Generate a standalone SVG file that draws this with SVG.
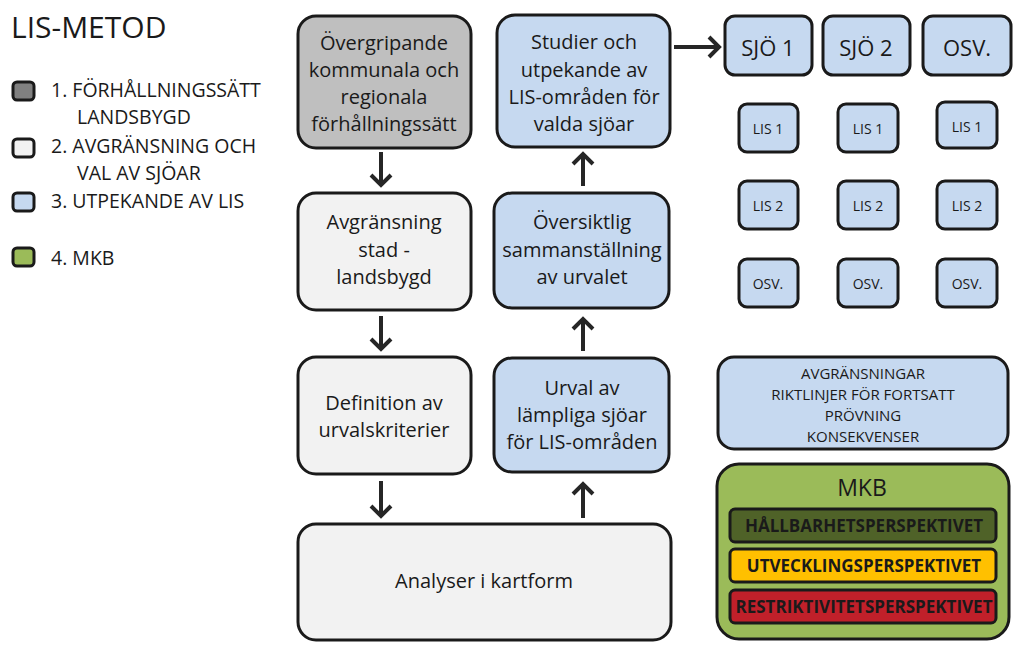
<svg xmlns="http://www.w3.org/2000/svg" width="1024" height="650" viewBox="0 0 1024 650">
<defs>
<style>
text{font-family:"Open Sans","Liberation Sans",sans-serif;fill:#1a1a1a;text-anchor:middle}
.b{stroke:#1a1a1a;stroke-width:3}
.gray{fill:#bfbfbf}
.lg{fill:#f2f2f2}
.bl{fill:#c6d9f0}
.t{font-size:20px}
.lt{font-size:19.5px;text-anchor:start}
.s{font-size:14px}
.m{font-size:15px}
.bar{font-size:17px;font-weight:bold}
.ar{fill:none;stroke:#262626;stroke-width:4}
</style>
</defs>
<rect width="1024" height="650" fill="#ffffff"/>
<text x="11" y="38" style="font-size:30px;text-anchor:start">LIS-METOD</text>
<g id="legend">
<rect x="13" y="82" width="21" height="18" rx="4" class="b" fill="#808080"/>
<rect x="13" y="139" width="21" height="18" rx="4" class="b" fill="#f2f2f2"/>
<rect x="13" y="193" width="21" height="18" rx="4" class="b" fill="#c6d9f0"/>
<rect x="13" y="248" width="21" height="18" rx="4" class="b" fill="#9bbb59"/>
<text x="51" y="97" class="lt">1. FÖRHÅLLNINGSSÄTT</text>
<text x="77" y="124" class="lt">LANDSBYGD</text>
<text x="51" y="153" class="lt">2. AVGRÄNSNING OCH</text>
<text x="77" y="180" class="lt">VAL AV SJÖAR</text>
<text x="51" y="208" class="lt">3. UTPEKANDE AV LIS</text>
<text x="51" y="265" class="lt">4. MKB</text>
</g>
<g id="n1"><rect x="298" y="16" width="173" height="132" rx="18" class="b gray"/>
<text class="t"><tspan x="384" y="50">Övergripande</tspan><tspan x="384" y="77">kommunala och</tspan><tspan x="384" y="104">regionala</tspan><tspan x="384" y="131">förhållningssätt</tspan></text></g>
<g id="n2"><rect x="298" y="193" width="173" height="117" rx="18" class="b lg"/>
<text class="t"><tspan x="384" y="229">Avgränsning</tspan><tspan x="384" y="257">stad -</tspan><tspan x="384" y="284">landsbygd</tspan></text></g>
<g id="n3"><rect x="298" y="357" width="173" height="117" rx="18" class="b lg"/>
<text class="t"><tspan x="384" y="410">Definition av</tspan><tspan x="384" y="437">urvalskriterier</tspan></text></g>
<g id="n4"><rect x="298" y="524" width="373" height="116" rx="18" class="b lg"/>
<text class="t" x="484" y="588">Analyser i kartform</text></g>
<g id="n5"><rect x="494" y="358" width="175" height="114" rx="18" class="b bl"/>
<text class="t"><tspan x="582" y="395">Urval av</tspan><tspan x="582" y="422">lämpliga sjöar</tspan><tspan x="582" y="449">för LIS-områden</tspan></text></g>
<g id="n6"><rect x="494" y="193" width="175" height="115" rx="18" class="b bl"/>
<text class="t"><tspan x="582" y="229">Översiktlig</tspan><tspan x="582" y="257">sammanställning</tspan><tspan x="582" y="284">av urvalet</tspan></text></g>
<g id="n7"><rect x="497" y="15" width="173" height="132" rx="18" class="b bl"/>
<text class="t"><tspan x="584" y="49">Studier och</tspan><tspan x="584" y="77">utpekande av</tspan><tspan x="584" y="104">LIS-områden för</tspan><tspan x="584" y="131">valda sjöar</tspan></text></g>
<g id="sjo1"><rect x="725" y="16" width="87" height="59" rx="10" class="b bl"/><text x="768" y="56" style="font-size:22px">SJÖ 1</text></g>
<g id="sjo2"><rect x="823" y="16" width="87" height="59" rx="10" class="b bl"/><text x="866" y="56" style="font-size:22px">SJÖ 2</text></g>
<g id="sjo3"><rect x="923" y="16" width="88" height="59" rx="10" class="b bl"/><text x="967" y="56" style="font-size:22px">OSV.</text></g>
<g id="lis11"><rect x="739" y="104" width="59" height="48" rx="8" class="b bl"/><text x="768" y="134" class="s">LIS 1</text></g>
<g id="lis21"><rect x="838" y="104" width="60" height="48" rx="8" class="b bl"/><text x="868" y="134" class="s">LIS 1</text></g>
<g id="lis31"><rect x="937" y="102" width="60" height="46" rx="8" class="b bl"/><text x="967" y="132" class="s">LIS 1</text></g>
<g id="lis12"><rect x="739" y="181" width="59" height="48" rx="8" class="b bl"/><text x="768" y="211" class="s">LIS 2</text></g>
<g id="lis22"><rect x="838" y="181" width="60" height="48" rx="8" class="b bl"/><text x="868" y="211" class="s">LIS 2</text></g>
<g id="lis32"><rect x="937" y="181" width="60" height="48" rx="8" class="b bl"/><text x="967" y="211" class="s">LIS 2</text></g>
<g id="lis13"><rect x="739" y="259" width="59" height="48" rx="8" class="b bl"/><text x="768" y="289" class="s">OSV.</text></g>
<g id="lis23"><rect x="838" y="259" width="60" height="48" rx="8" class="b bl"/><text x="868" y="289" class="s">OSV.</text></g>
<g id="lis33"><rect x="937" y="259" width="60" height="48" rx="8" class="b bl"/><text x="967" y="289" class="s">OSV.</text></g>
<g id="avgr"><rect x="718" y="357" width="290" height="92" rx="16" class="b bl"/>
<text class="m"><tspan x="863" y="379">AVGRÄNSNINGAR</tspan><tspan x="863" y="400">RIKTLINJER FÖR FORTSATT</tspan><tspan x="863" y="421">PRÖVNING</tspan><tspan x="863" y="442">KONSEKVENSER</tspan></text></g>
<g id="mkb"><rect x="717" y="464" width="292" height="175" rx="22" class="b" fill="#9bbb59"/>
<text x="862" y="496" style="font-size:23px">MKB</text>
<rect x="730" y="509" width="266" height="33" rx="5" class="b" fill="#4f6228"/>
<text x="864" y="532" class="bar">HÅLLBARHETSPERSPEKTIVET</text>
<rect x="730" y="549" width="266" height="33" rx="5" class="b" fill="#ffc000"/>
<text x="864" y="572" class="bar">UTVECKLINGSPERSPEKTIVET</text>
<rect x="730" y="590" width="266" height="33" rx="5" class="b" fill="#c0202a"/>
<text x="864" y="613" class="bar">RESTRIKTIVITETSPERSPEKTIVET</text></g>
<g id="connectors">
<path class="ar" d="M381 152V185M371 175L381 185L391 175"/>
<path class="ar" d="M381 316V349M371 339L381 349L391 339"/>
<path class="ar" d="M381 481V516M371 506L381 516L391 506"/>
<path class="ar" d="M583 518V484M573 494L583 484L593 494"/>
<path class="ar" d="M583 351V319M573 329L583 319L593 329"/>
<path class="ar" d="M583 186V154M573 164L583 154L593 164"/>
<path class="ar" d="M674 47H719M709 37L719 47L709 57"/>
</g>
</svg>
